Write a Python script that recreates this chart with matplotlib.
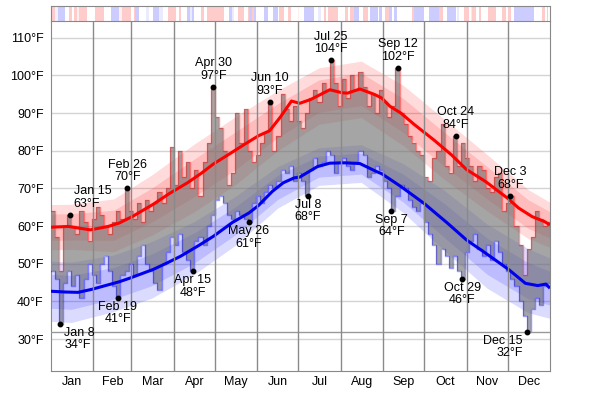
import numpy as np
import matplotlib.pyplot as plt

plt.rcParams['font.family'] = ['Liberation Sans', 'DejaVu Sans']

# month axis
months = ['Jan', 'Feb', 'Mar', 'Apr', 'May', 'Jun', 'Jul', 'Aug', 'Sep', 'Oct', 'Nov', 'Dec']
month_starts = [0, 31, 59, 90, 120, 151, 181, 212, 243, 273, 304, 334, 365]

# average daily high / low
avg_hi_days = [0, 13, 20, 29, 42, 50, 60, 75, 87, 100, 110, 119, 130, 143, 152, 160, 168, 176, 182,
               190, 204, 213, 217, 226, 237, 242, 248, 256, 266, 280, 293, 304, 318, 334, 342, 352, 361, 365]
avg_hi = [59.7, 59.9, 59.5, 59.0, 59.9, 60.8, 62.6, 65.8, 68.7, 71.5, 74.0, 76.5, 79.0, 82.0, 84.0, 85.3, 89.0, 93.2, 92.6,
          93.6, 96.2, 95.4, 95.3, 96.4, 94.9, 94.0, 91.8, 90.0, 86.9, 82.9, 78.9, 75.0, 71.8, 67.4, 64.8, 62.5, 61.2, 60.3]

avg_lo_days = [0, 10, 20, 30, 42, 50, 58, 75, 85, 95, 108, 119, 133, 145, 152, 162, 170, 178, 182,
               195, 204, 215, 226, 238, 242, 256, 273, 290, 304, 318, 335, 347, 356, 362, 365]
avg_lo = [42.7, 42.5, 42.4, 43.2, 44.4, 45.2, 46.2, 48.5, 50.2, 52.0, 54.8, 57.3, 61.0, 63.5, 65.5, 69.2, 71.5, 72.8, 73.0,
          75.8, 76.7, 76.8, 76.6, 74.5, 73.9, 70.5, 66.0, 60.8, 56.3, 52.8, 48.4, 44.8, 44.2, 44.6, 43.5]

# percentile bands (10/25/75/90)
band_days = [0, 15, 46, 74, 105, 135, 166, 196, 227, 258, 288, 319, 349, 365]
hi_p90 = [65.7, 65.8, 67.2, 73.6, 81.8, 89.0, 96.0, 102.0, 103.8, 97.3, 88.3, 79.0, 69.7, 66.3]
hi_p75 = [63.2, 63.3, 64.2, 70.1, 77.8, 85.0, 92.5, 98.8, 100.6, 93.8, 84.8, 75.8, 67.0, 63.8]
hi_p25 = [56.2, 56.3, 56.2, 61.1, 67.8, 75.0, 83.5, 90.2, 92.0, 84.8, 75.8, 67.2, 59.4, 56.8]
hi_p10 = [53.7, 53.8, 53.2, 57.6, 63.8, 71.0, 80.0, 87.0, 88.8, 81.3, 72.3, 64.0, 56.7, 54.3]
lo_p90 = [50.7, 50.4, 52.3, 55.9, 61.2, 67.9, 75.8, 80.8, 81.6, 76.5, 69.4, 60.5, 54.0, 51.5]
lo_p75 = [47.2, 46.9, 49.0, 52.6, 58.2, 65.1, 73.5, 78.6, 79.4, 73.7, 65.9, 56.8, 50.3, 48.0]
lo_p25 = [38.2, 37.9, 40.6, 44.2, 50.2, 57.7, 67.1, 73.0, 73.8, 66.3, 56.9, 47.2, 40.7, 39.0]
lo_p10 = [34.7, 34.4, 37.3, 40.9, 47.2, 54.9, 64.8, 70.8, 71.6, 63.5, 53.4, 43.5, 37.0, 35.5]

# observed highs / lows, one value per 3 days
day_step = 3
daily_hi = [64, 57, 48, 60, 63, 60, 58, 64, 61, 56, 62, 65, 63, 60, 58, 61, 64, 62, 70, 64,
            62, 66, 61, 67, 64, 66, 69, 66, 70, 81, 71, 80, 73, 77, 70, 75, 68, 77, 82, 97,
            89, 86, 80, 71, 74, 90, 82, 91, 80, 77, 79, 82, 85, 93, 80, 84, 95, 91, 88, 92,
            88, 86, 90, 94, 96, 93, 98, 96, 104, 98, 92, 99, 94, 100, 96, 101, 97, 92, 95, 90,
            96, 93, 89, 92, 102, 90, 87, 84, 82, 80, 79, 73, 72, 78, 80, 87, 76, 74, 84, 76,
            82, 78, 76, 72, 76, 75, 70, 69, 73, 74, 64, 66, 68, 60, 55, 47, 54, 57, 64, 62,
            60, 61]
daily_lo = [48, 46, 34, 45, 48, 44, 47, 41, 46, 50, 47, 45, 50, 52, 48, 44, 41, 47, 48, 50,
            47, 52, 55, 50, 48, 45, 43, 50, 53, 57, 55, 58, 53, 51, 48, 56, 57, 55, 60, 63,
            67, 68, 66, 63, 62, 64, 63, 62, 61, 66, 68, 66, 69, 71, 70, 72, 75, 74, 76, 72,
            74, 72, 68, 75, 78, 76, 77, 80, 79, 74, 77, 78, 76, 75, 77, 80, 79, 73, 74, 76,
            75, 72, 70, 64, 68, 71, 70, 67, 65, 64, 66, 61, 58, 55, 50, 54, 52, 49, 52, 48,
            46, 53, 56, 58, 54, 52, 55, 51, 56, 53, 50, 48, 46, 44, 40, 36, 32, 38, 41, 39,
            44, 45]

# labelled records
ext_labels = ['Jan 8', 'Jan 15', 'Feb 19', 'Feb 26', 'Apr 15', 'Apr 30', 'May 26', 'Jun 10',
              'Jul 8', 'Jul 25', 'Sep 7', 'Sep 12', 'Oct 24', 'Oct 29', 'Dec 3', 'Dec 15']
ext_days = [7, 14, 49, 56, 104, 119, 145, 160, 188, 205, 249, 254, 296, 301, 336, 348]
ext_temps = [34, 63, 41, 70, 48, 97, 61, 93, 68, 104, 64, 102, 84, 46, 68, 32]
ext_is_max = [False, True, False, True, False, True, False, True,
              False, True, False, True, True, False, True, False]

# top strip: start day of each run and its tint (+ warm, - cool)
strip_start = [0, 3.4, 5.3, 10.2, 13.1, 15.5, 17, 19.4, 20.4, 26.7, 32.1, 38.9, 44.3, 49.6, 52, 58.9,
               60.8, 61.8, 64.9, 69.8, 72.2, 74.7, 79.5, 82, 85.6, 91.7, 94.1, 95.3, 99.7, 101.5, 103.1,
               105, 110, 112.4, 114.3, 127, 130.6, 132.3, 134.3, 136.7, 141.6, 144, 145.2, 146.9, 148.9,
               150.1, 155.7, 158.6, 162.3, 165.9, 167.1, 170.8, 173.2, 175.6, 180.5, 181.7, 185.4, 192.7,
               195.6, 197.5, 199.5, 201.4, 202.9, 209.7, 215.1, 217, 219, 221.9, 225.3, 228, 231.6, 233.5,
               238.9, 240.1, 242.5, 244.2, 247.4, 249.8, 251.1, 253, 264.4, 265.7, 273, 276.6, 283.9, 287.1,
               290, 296.1, 297.3, 298.5, 302.2, 305.8, 307, 308.2, 310.7, 313.1, 314.8, 319.7, 325.3, 330.1,
               332.6, 334.3, 336.2, 338.7, 353.2, 359.3, 361, 362.5, 363.5]
strip_value = [1, -0.3, -1, 0, 1, 0, 1, 0.3, 1, 0, 1, 0, -1, 0.3, 1, 0,
               1, -1, 0, -0.4, 0, -1, -0.4, 0, 1, 0, 1, 0, -1, -0.4, -1,
               0, 1, 0, 1, 0, -1, -0.4, 0, 1, 0, 1, -1, 1, -1,
               0, -1, 0, -1, 0, 1, 0, 1, 0, 0.3, 0, -1, 0,
               -0.4, 0, 1, 0, 1, 0, 1, 0, 1, -1, 0, 1, 0, -1,
               0, -1, 0, 1, -1, 0, -1, 0, 1, -1, 0, -1, 1, 0,
               -1, 0, -0.4, 0, 1, 0, -0.4, 1, 0, 1, 0, 1, 0, 1,
               0, 1, 0, -1, 0, 1, 0, 1, 0]

fs = 9
fig = plt.figure(figsize=(6, 3.94), dpi=100)
ax = fig.add_axes([50.7 / 600, 23.3 / 394, 499.3 / 600, 349.7 / 394])
top = fig.add_axes([50.7 / 600, 373 / 394, 499.3 / 600, 15 / 394])

# grid
for t in range(30, 111, 10):
    ax.axhline(t, color='#d4d4d4', lw=1, zorder=0.5)
ax.axhline(32, color='#999999', lw=1, zorder=5)
for m in month_starts[1:-1]:
    ax.axvline(m, color='#8a8a8a', lw=1, zorder=5)

# percentile bands
ax.fill_between(band_days, hi_p10, hi_p90, color='#ff0000', alpha=0.14, lw=0, zorder=1)
ax.fill_between(band_days, hi_p25, hi_p75, color='#ff0000', alpha=0.14, lw=0, zorder=1)
ax.fill_between(band_days, lo_p10, lo_p90, color='#0000ff', alpha=0.14, lw=0, zorder=1)
ax.fill_between(band_days, lo_p25, lo_p75, color='#0000ff', alpha=0.14, lw=0, zorder=1)

# observed range
x_edges = np.arange(len(daily_hi) + 1) * day_step
hi_ext = daily_hi + [daily_hi[-1]]
lo_ext = daily_lo + [daily_lo[-1]]
ax.fill_between(x_edges, lo_ext, hi_ext, step='post', color='#6e6e6e', alpha=0.62, lw=0, zorder=2)
ax.step(x_edges, hi_ext, where='post', color='#ff0000', alpha=0.4, lw=1, zorder=3)
ax.step(x_edges, lo_ext, where='post', color='#0000ff', alpha=0.4, lw=1, zorder=3)

# averages
ax.plot(avg_hi_days, avg_hi, color='#ff0000', lw=2.2, zorder=4, solid_capstyle='butt')
ax.plot(avg_lo_days, avg_lo, color='#0000ee', lw=2.2, zorder=4, solid_capstyle='butt')

# record labels
for lab, d, t, is_max in zip(ext_labels, ext_days, ext_temps, ext_is_max):
    ax.plot(d, t, 'o', ms=3.2, color='black', zorder=6)
    txt = lab + '\n' + str(t) + '°F'
    ha, dx = 'center', 0
    if lab in ('Jan 8', 'Jan 15'):
        ha, dx = 'left', 4
    elif lab == 'Dec 15':
        ha, dx = 'right', -4
    if is_max:
        ax.annotate(txt, (d, t), xytext=(dx, 5), textcoords='offset pixels', ha=ha, va='bottom',
                    ma=ha, fontsize=fs, linespacing=1.05, zorder=7)
    else:
        ax.annotate(txt, (d, t), xytext=(dx, -3), textcoords='offset pixels', ha=ha, va='top',
                    ma=ha, fontsize=fs, linespacing=1.05, zorder=7)

ax.set_xlim(0, 365)
ax.set_ylim(21.6, 114.45)
ax.set_yticks(range(30, 111, 10))
ax.set_yticklabels([str(t) + '°F' for t in range(30, 111, 10)])
ax.set_xticks(month_starts)
ax.set_xticklabels([])
ax.set_xticks([(a + b) / 2 for a, b in zip(month_starts[:-1], month_starts[1:])], minor=True)
ax.set_xticklabels(months, minor=True)
ax.tick_params(axis='both', which='both', length=0, labelsize=fs)
ax.tick_params(axis='y', pad=5)
ax.tick_params(axis='x', which='minor', pad=4)
for s in ['left', 'right', 'bottom']:
    ax.spines[s].set_color('#888888')
ax.spines['top'].set_visible(False)

# top strip
ends = strip_start[1:] + [365]
for s, e, v in zip(strip_start, ends, strip_value):
    if v == 0:
        continue
    k = 0.2 * abs(v)
    if v > 0:
        c = (1, 1 - k, 1 - k)
    else:
        c = (1 - k, 1 - k, 1)
    top.axvspan(s, e, color=c, lw=0)
top.set_xlim(0, 365)
top.set_ylim(0, 1)
top.set_xticks([])
top.set_yticks([])
for s in top.spines.values():
    s.set_color('#888888')

fig.savefig('out.png', dpi=100)
